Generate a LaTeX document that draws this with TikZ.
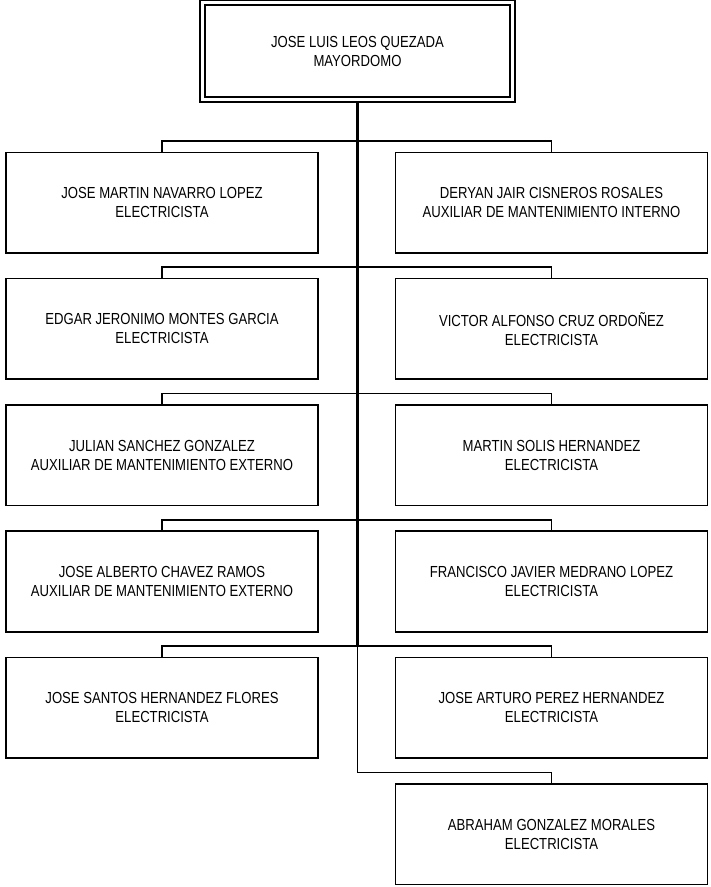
\documentclass[tikz,border=0pt]{standalone}
\usepackage{fontspec}
\setmainfont{Liberation Sans}[FakeStretch=0.82]
\begin{document}
\begin{tikzpicture}[x=0.75pt,y=-0.75pt,
  person/.style={draw, line width=1.2pt, minimum width=234pt, minimum height=75.4pt,
    inner sep=0pt, align=center, font=\fontsize{12pt}{14.25pt}\selectfont},
  boss/.style={draw, double, line width=1.3pt, double distance=2.4pt,
    minimum width=232.5pt, minimum height=72.75pt, inner sep=0pt, align=center,
    font=\fontsize{12pt}{14.25pt}\selectfont},
  branch/.style={line width=1.2pt},
  trunk/.style={line width=2.25pt}]
\useasboundingbox (0,0) rectangle (710,887);
\node[boss] (top) at (357.5,51) {JOSE LUIS LEOS QUEZADA\\MAYORDOMO};
\node[person] (L1) at (162,202.6) {JOSE MARTIN NAVARRO LOPEZ\\ELECTRICISTA};
\node[person] (R1) at (551.5,202.6) {DERYAN JAIR CISNEROS ROSALES\\AUXILIAR DE MANTENIMIENTO INTERNO};
\node[person] (L2) at (162,328.9) {EDGAR JERONIMO MONTES GARCIA\\ELECTRICISTA};
\node[person] (R2) at (551.5,328.9) {VICTOR ALFONSO CRUZ ORDOÑEZ\\ELECTRICISTA};
\node[person] (L3) at (162,455.2) {JULIAN SANCHEZ GONZALEZ\\AUXILIAR DE MANTENIMIENTO EXTERNO};
\node[person] (R3) at (551.5,455.2) {MARTIN SOLIS HERNANDEZ\\ELECTRICISTA};
\node[person] (L4) at (162,581.5) {JOSE ALBERTO CHAVEZ RAMOS\\AUXILIAR DE MANTENIMIENTO EXTERNO};
\node[person] (R4) at (551.5,581.5) {FRANCISCO JAVIER MEDRANO LOPEZ\\ELECTRICISTA};
\node[person] (L5) at (162,707.8) {JOSE SANTOS HERNANDEZ FLORES\\ELECTRICISTA};
\node[person] (R5) at (551.5,707.8) {JOSE ARTURO PEREZ HERNANDEZ\\ELECTRICISTA};
\node[person] (R6) at (551.5,834.1) {ABRAHAM GONZALEZ MORALES\\ELECTRICISTA};
\coordinate (b1) at (357.5,140.85);
\coordinate (b2) at (357.5,267.15);
\coordinate (b3) at (357.5,393.45);
\coordinate (b4) at (357.5,519.75);
\coordinate (b5) at (357.5,646.05);
\coordinate (b6) at (357.5,772.35);
\foreach \i in {1,...,5}{
  \draw[branch] (L\i.north) |- (b\i) -| (R\i.north);
}
\draw[trunk, shorten <=1.9pt] (top.south) -- (b5);
\draw[branch] (b5) -- (b6) -| (R6.north);
\end{tikzpicture}
\end{document}
